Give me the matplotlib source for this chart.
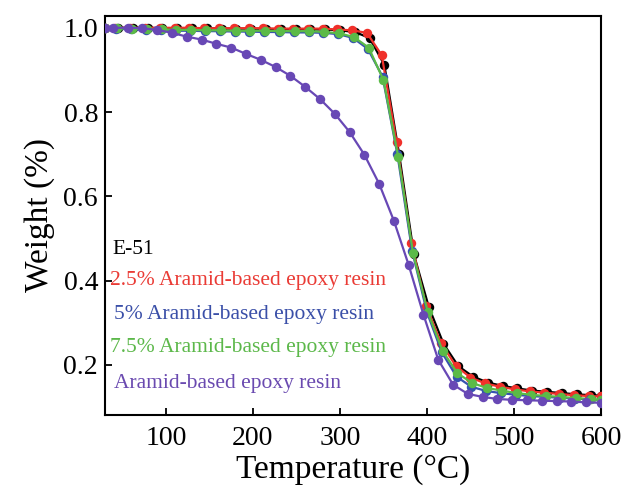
import matplotlib
matplotlib.use("Agg")
import matplotlib.pyplot as plt

plt.rcParams['font.family'] = ['Liberation Serif', 'DejaVu Serif']

# TGA curves
temp_e51 = [30, 45, 62, 79, 96, 113, 130, 147, 164, 181, 198, 215, 232, 249, 266, 283, 300, 317,
            334, 351, 368, 385, 402, 419, 436, 453, 470, 487, 504, 521, 538, 555, 572, 589, 600]
weight_e51 = [1.000, 1.000, 1.000, 1.000, 0.999, 0.999, 0.999, 0.999, 0.998, 0.998, 0.998, 0.997,
              0.997, 0.997, 0.996, 0.996, 0.994, 0.990, 0.976, 0.912, 0.700, 0.462, 0.338, 0.250,
              0.197, 0.172, 0.158, 0.150, 0.144, 0.139, 0.136, 0.133, 0.130, 0.128, 0.127]

temp_25 = [30, 42, 59, 76, 93, 110, 127, 144, 161, 178, 195, 212, 229, 246, 263, 280, 297, 314,
           331, 348, 365, 382, 399, 416, 433, 450, 467, 484, 501, 518, 535, 552, 569, 586, 600]
weight_25 = [1.000, 1.000, 1.000, 1.000, 1.000, 1.000, 1.000, 0.999, 0.999, 0.999, 0.999, 0.999,
             0.998, 0.998, 0.998, 0.998, 0.996, 0.994, 0.988, 0.935, 0.730, 0.490, 0.340, 0.252,
             0.198, 0.170, 0.156, 0.148, 0.142, 0.137, 0.134, 0.131, 0.128, 0.126, 0.125]

temp_5 = [30, 43, 60, 77, 94, 111, 128, 145, 162, 179, 196, 213, 230, 247, 264, 281, 298, 315,
          332, 349, 366, 383, 400, 417, 434, 451, 468, 485, 502, 519, 536, 553, 570, 587, 600]
weight_5 = [1.000, 0.998, 0.996, 0.995, 0.994, 0.993, 0.993, 0.992, 0.992, 0.991, 0.991, 0.990,
            0.990, 0.989, 0.989, 0.988, 0.985, 0.976, 0.950, 0.884, 0.700, 0.470, 0.325, 0.230,
            0.172, 0.148, 0.138, 0.133, 0.129, 0.126, 0.124, 0.122, 0.120, 0.118, 0.117]

temp_75 = [30, 44, 61, 78, 95, 112, 129, 146, 163, 180, 197, 214, 231, 248, 265, 282, 299, 316,
           333, 350, 367, 384, 401, 418, 435, 452, 469, 486, 503, 520, 537, 554, 571, 588, 600]
weight_75 = [1.000, 0.999, 0.998, 0.997, 0.996, 0.995, 0.995, 0.994, 0.994, 0.993, 0.993, 0.993,
             0.992, 0.992, 0.992, 0.990, 0.987, 0.978, 0.953, 0.876, 0.694, 0.465, 0.325, 0.233,
             0.180, 0.157, 0.145, 0.139, 0.133, 0.129, 0.126, 0.124, 0.121, 0.119, 0.117]

temp_ar = [30, 39, 56, 73, 90, 107, 124, 141, 158, 175, 192, 209, 226, 243, 260, 277, 294, 311,
           328, 345, 362, 379, 396, 413, 430, 447, 464, 481, 498, 515, 532, 549, 566, 583, 600]
weight_ar = [1.000, 1.000, 1.000, 0.999, 0.995, 0.988, 0.979, 0.972, 0.962, 0.953, 0.938, 0.924,
             0.907, 0.886, 0.860, 0.831, 0.796, 0.753, 0.699, 0.630, 0.542, 0.437, 0.319, 0.212,
             0.153, 0.131, 0.124, 0.119, 0.117, 0.116, 0.115, 0.114, 0.113, 0.111, 0.110]

labels = ["E-51", "2.5% Aramid-based epoxy resin", "5% Aramid-based epoxy resin",
          "7.5% Aramid-based epoxy resin", "Aramid-based epoxy resin"]
line_colors = ["black", "#f0302a", "#3752b0", "#5bba47", "#6848b5"]
text_colors = ["black", "#ea3b35", "#3a4fa8", "#5cb84a", "#6a4ab0"]

fig = plt.figure(figsize=(6.25, 4.92), dpi=100)
ax = fig.add_axes([0.168, 0.1565, 0.7936, 0.811])

series = [(temp_e51, weight_e51), (temp_25, weight_25), (temp_5, weight_5),
          (temp_75, weight_75), (temp_ar, weight_ar)]
for i, (t, w) in enumerate(series):
    ax.plot(t, w, color=line_colors[i], lw=1.6, marker='o', ms=6.8,
            markeredgewidth=0, zorder=2 + i)

ax.set_xlim(30, 600)
ax.set_ylim(0.081, 1.028)
ax.set_xticks([100, 200, 300, 400, 500, 600])
ax.set_yticks([0.2, 0.4, 0.6, 0.8, 1.0])
ax.set_yticklabels(["0.2", "0.4", "0.6", "0.8", "1.0"])

ax.tick_params(direction='in', length=5, width=1.3, labelsize=20, top=False, right=False)
ax.tick_params(axis='x', pad=8)
ax.tick_params(axis='y', pad=5)
for s in ax.spines.values():
    s.set_linewidth(1.5)

ax.set_xlabel("Temperature (°C)", fontsize=24, labelpad=2)
ax.set_ylabel("Weight (%)", fontsize=24, labelpad=6)

# colored series labels inside the axes
label_y = [0.414, 0.338, 0.251, 0.170, 0.080]
label_x = [0.016, 0.011, 0.018, 0.011, 0.018]
for i, lab in enumerate(labels):
    ax.text(label_x[i], label_y[i], lab, transform=ax.transAxes, fontsize=15.5,
            color=text_colors[i], va='center', ha='left')

fig.savefig("out.png", dpi=100)
